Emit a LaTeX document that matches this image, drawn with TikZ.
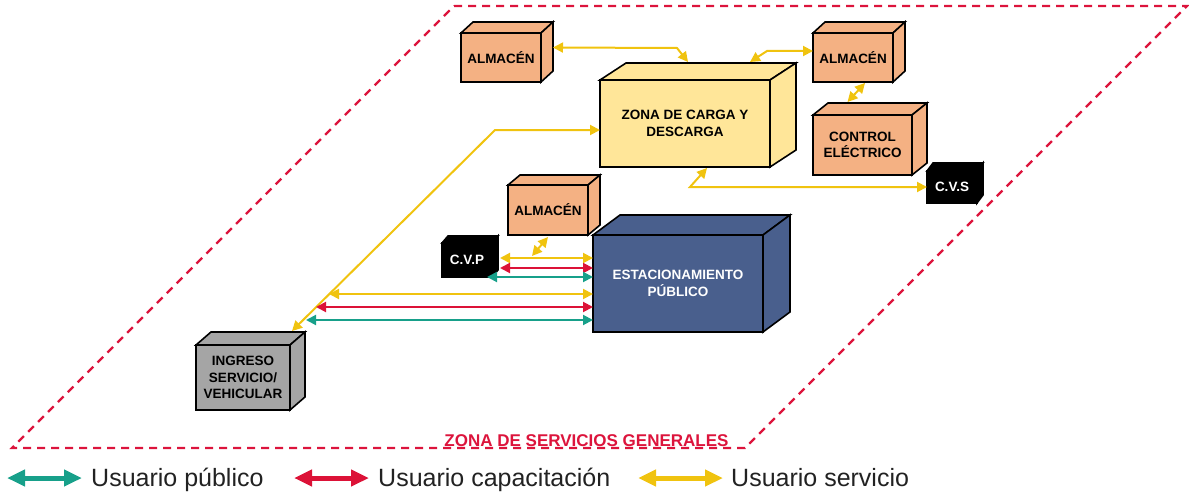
\documentclass[tikz,border=0pt]{standalone}
\usepackage{fontspec}
\setmainfont{Liberation Sans}
\usetikzlibrary{arrows.meta,calc}
\definecolor{salmon}{HTML}{F4B183}
\definecolor{lightyel}{HTML}{FFE699}
\definecolor{navy}{HTML}{495F8D}
\definecolor{boxgray}{HTML}{A5A5A5}
\definecolor{flowteal}{HTML}{17A08A}
\definecolor{flowred}{HTML}{DC1237}
\definecolor{flowyel}{HTML}{F0C30F}
\definecolor{zonered}{HTML}{DC143C}
\definecolor{legtext}{HTML}{222222}
\newcommand\cubfaces[4]{%
  \draw[cubline, fill=#4] (#1.north west) -- ++(#2,#3) -- ($(#1.north east)+(#2,#3)$) -- (#1.north east) -- cycle;
  \draw[cubline, fill=#4] (#1.north east) -- ++(#2,#3) -- ($(#1.south east)+(#2,#3)$) -- (#1.south east) -- cycle;
}
\tikzset{
  cubline/.style={draw=black, line width=1.6pt},
  cub/.style={draw=black, line width=1.6pt, inner sep=0pt, outer sep=0pt, align=center,
    font=\bfseries\fontsize{13.5}{16.5}\selectfont},
  flowarr/.style={line width=2pt, arrows={Triangle[length=10pt,width=10pt]-Triangle[length=10pt,width=10pt]}},
  flowY/.style={flowarr, draw=flowyel},
  flowR/.style={flowarr, draw=flowred},
  flowT/.style={flowarr, draw=flowteal},
  legarr/.style={line width=5pt, arrows={Triangle[length=18pt,width=16pt]-Triangle[length=18pt,width=16pt]}},
  legtxt/.style={anchor=base west, inner sep=0pt, text=legtext, font=\fontsize{25}{28}\selectfont},
  zone/.style={draw=zonered, line width=2.2pt, dash pattern=on 8pt off 6pt},
}
\begin{document}
\begin{tikzpicture}[x=1pt,y=-1pt]
\useasboundingbox (0,0) rectangle (1189,495);

% zone outline
\draw[zone] (454,6) -- (1187,6) -- (745,448) -- (12,448) -- cycle;
\node[anchor=base, inner sep=0pt, text=zonered, font=\bfseries\fontsize{17}{20}\selectfont] (zonelabel) at (586.5,446) {ZONA DE SERVICIOS GENERALES};

% boxes
\node[cub, fill=salmon, minimum width=80pt, minimum height=49pt] (alm1) at (501,57.5) {ALMACÉN};
\cubfaces{alm1}{12}{-11}{salmon}
\node[cub, fill=lightyel, minimum width=170pt, minimum height=87pt] (zona) at (685,123.5) {ZONA DE CARGA Y\\DESCARGA};
\cubfaces{zona}{26}{-17}{lightyel}
\node[cub, fill=salmon, minimum width=80pt, minimum height=49pt] (alm2) at (853,57.5) {ALMACÉN};
\cubfaces{alm2}{12}{-11}{salmon}
\node[cub, fill=salmon, minimum width=99pt, minimum height=60pt] (ctrl) at (862.5,145) {CONTROL\\ELÉCTRICO};
\cubfaces{ctrl}{15}{-12}{salmon}
\node[cub, fill=black, text=white, minimum width=50pt, minimum height=32pt] (cvs) at (952,187) {C.V.S};
\cubfaces{cvs}{6}{-8}{black}
\node[cub, fill=navy, text=white, minimum width=170pt, minimum height=97pt] (est) at (678,283.5) {ESTACIONAMIENTO\\PÚBLICO};
\cubfaces{est}{27}{-20}{navy}
\node[cub, fill=salmon, minimum width=80pt, minimum height=50pt] (alm3) at (548,210) {ALMACÉN};
\cubfaces{alm3}{12}{-10}{salmon}
\node[cub, fill=black, text=white, minimum width=50pt, minimum height=34pt] (cvp) at (467,260) {C.V.P};
\cubfaces{cvp}{6}{-7}{black}
\node[cub, fill=boxgray, minimum width=94pt, minimum height=65pt] (ing) at (243,377.5) {INGRESO\\SERVICIO/\\VEHICULAR};
\cubfaces{ing}{15}{-13}{boxgray}

% connectors
\draw[flowY] ($(alm1.east)+(12,-10)$) -- ($(zona.north)+(-8,-32)$) -- ($(zona.north)+(3,-18)$);
\draw[flowY] ($(zona.north)+(65,-18)$) -- ($(zona.north)+(82,-29)$) -- ($(alm2.west)+(0,-6.5)$);
\draw[flowY] ($(alm2.south)+(12,1)$) -- ($(ctrl.north)+(-15,-13)$);
\draw[flowY] ($(zona.south)+(22,1)$) -- ($(zona.south)+(5,20)$) -- (cvs.west);
\draw[flowY] ($(zona.west)+(0,6.5)$) -- ($(zona.west)+(-105,6.5)$) -- ($(ing.north east)+(2,-14)$);

\draw[flowY] ($(cvp.east)+(8,-2)$) -- ($(est.west)+(0,-25.5)$);
\draw[flowR] ($(cvp.east)+(8,8)$) -- ($(est.west)+(0,-15.5)$);
\draw[flowT] ($(cvp.south)+(20,0)$) -- ($(est.west)+(0,-6.5)$);
\draw[flowY] ($(alm3.south)+(0,2)$) -- ($(alm3.south)+(-16,21)$);

\draw[flowY] ($(est.west)+(-264,10.5)$) -- ($(est.west)+(0,10.5)$);
\draw[flowR] ($(est.west)+(-277,23.5)$) -- ($(est.west)+(0,23.5)$);
\draw[flowT] ($(est.west)+(-287,36.5)$) -- ($(est.west)+(0,36.5)$);

% legend
\coordinate (lt1) at (7,478); \coordinate (lt2) at (82,478);
\coordinate (lr1) at (294,478); \coordinate (lr2) at (369,478);
\coordinate (ly1) at (638,478); \coordinate (ly2) at (723,478);
\draw[legarr, draw=flowteal] (lt1) -- (lt2);
\draw[legarr, draw=flowred] (lr1) -- (lr2);
\draw[legarr, draw=flowyel] (ly1) -- (ly2);
\node[legtxt] (legt) at (91,486) {Usuario público};
\node[legtxt] (legr) at (378,486) {Usuario capacitación};
\node[legtxt] (legy) at (731,486) {Usuario servicio};
\end{tikzpicture}
\end{document}
